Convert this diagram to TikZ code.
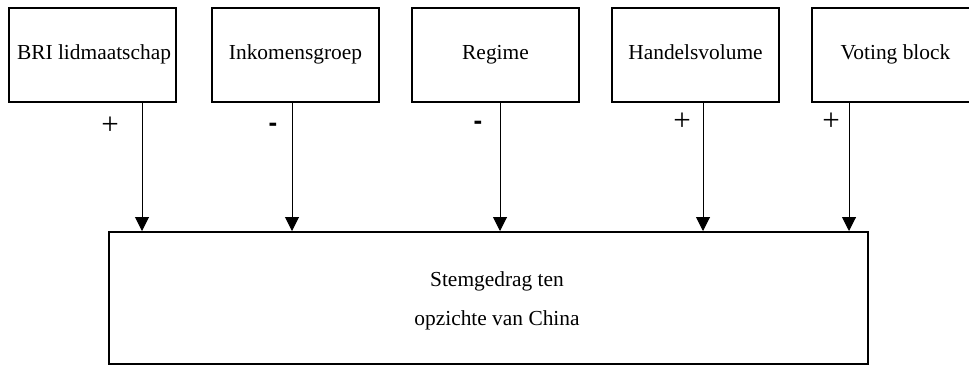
\documentclass[tikz,border=0pt]{standalone}
\usepackage{fontspec}
\setmainfont{Liberation Serif}
\newfontfamily\signfont{Liberation Sans}
\usetikzlibrary{arrows.meta}
\begin{document}
\begin{tikzpicture}[x=1pt,y=-1pt,
  topbox/.style={draw,line width=2pt,minimum width=167pt,minimum height=94pt,inner sep=0pt,
    font=\fontsize{21.4}{26}\selectfont,text height=16pt,text depth=8pt},
  bigbox/.style={draw,line width=2pt,minimum width=759pt,minimum height=132pt,inner sep=0pt},
  bigtext/.style={font=\fontsize{21.4}{39}\selectfont,align=center,inner sep=0pt},
  arr/.style={line width=1pt,-{Triangle[width=14pt,length=14pt]}},
  plus/.style={font=\fontsize{31}{34}\selectfont,inner sep=0pt},
  minus/.style={font=\signfont\bfseries\fontsize{26}{30}\selectfont,inner sep=0pt}]
\useasboundingbox (0,0) rectangle (969,365);
\clip (0,0) rectangle (969,365);

\node[topbox] (bri) at (92.5,55) {\hspace*{3pt}BRI lidmaatschap};
\node[topbox] (ink) at (295.5,55) {Inkomensgroep};
\node[topbox] (reg) at (495.5,55) {Regime};
\node[topbox] (han) at (695.5,55) {Handelsvolume};
\node[topbox] (vot) at (895.5,55) {Voting block};

\node[bigbox] (target) at (488.5,298) {};
\node[bigtext] (targettext) at (497,300.5) {Stemgedrag ten\\opzichte van China};

\coordinate (a1) at (142,0);
\coordinate (a2) at (292,0);
\coordinate (a3) at (500,0);
\coordinate (a4) at (703,0);
\coordinate (a5) at (849,0);

\draw[arr] (a1 |- bri.south) -- (a1 |- target.north);
\draw[arr] (a2 |- ink.south) -- (a2 |- target.north);
\draw[arr] (a3 |- reg.south) -- (a3 |- target.north);
\draw[arr] (a4 |- han.south) -- (a4 |- target.north);
\draw[arr] (a5 |- vot.south) -- (a5 |- target.north);

\node[plus] (s1) at (110,126) {+};
\node[minus] (s2) at (273,127) {-};
\node[minus] (s3) at (478,125) {-};
\node[plus] (s4) at (682,122) {+};
\node[plus] (s5) at (831,122) {+};
\end{tikzpicture}
\end{document}
